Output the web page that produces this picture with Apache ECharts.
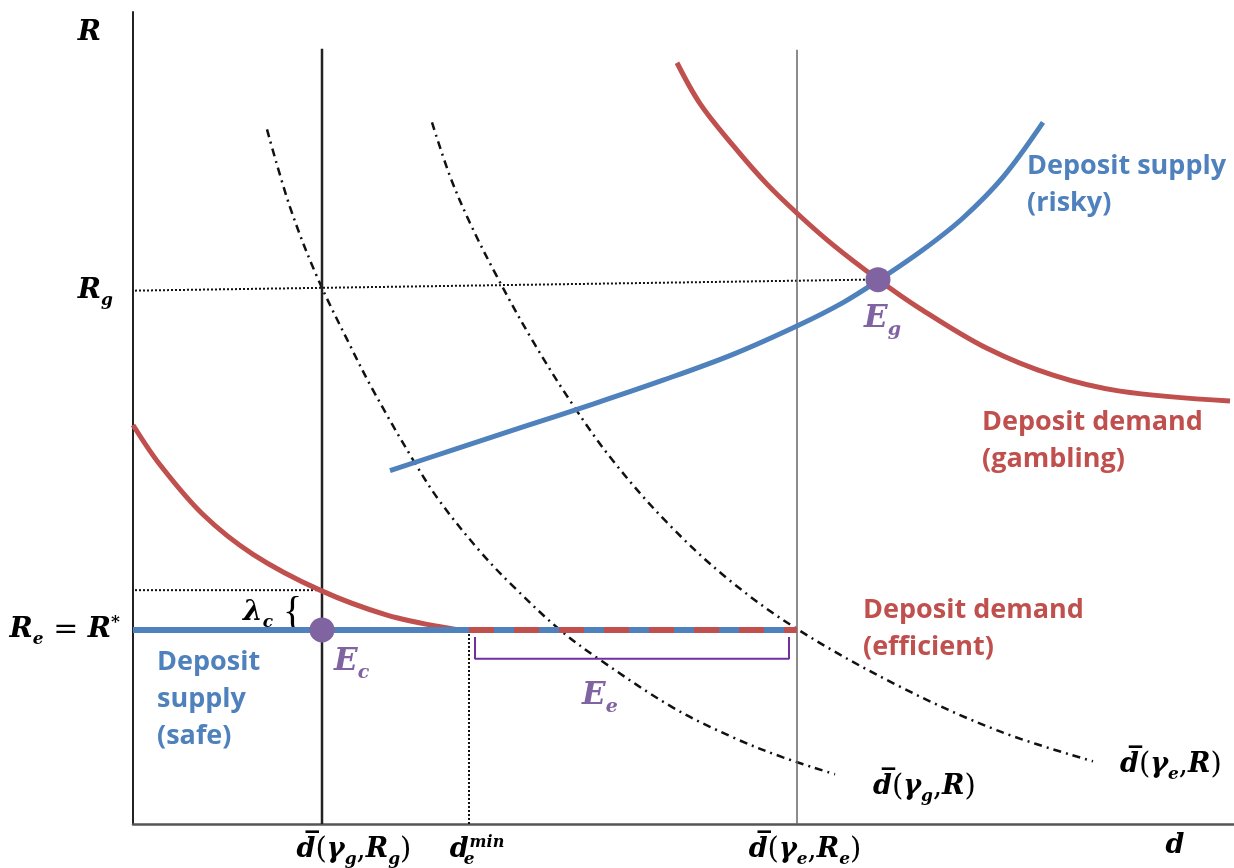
<!DOCTYPE html>
<html>
<head>
<meta charset="utf-8">
<script src="https://cdn.jsdelivr.net/npm/echarts@6/dist/echarts.min.js"></script>
<style>
  html, body { margin: 0; padding: 0; background: #fff; }
  #chart { width: 1234px; height: 868px; }
</style>
</head>
<body>
<div id="chart"></div>
<script>
// coordinates: d along the horizontal axis, R up the vertical axis (both)
const demandEfficient = [[0, 401], [27, 361], [70, 311], [120, 271], [187, 235], [254, 210], [320, 196], [336, 195]]
const supplySafe = [[0, 195], [664, 195]]
const demandEfficientFlat = [[336, 195], [664, 195]]
const supplyRisky = [[257, 355], [320, 376], [390, 399], [460, 422], [530, 446], [600, 472], [665, 501], [710, 524], [745, 546], [790, 577], [830, 609], [870, 650], [910, 705]]
const demandGambling = [[544, 765], [567, 724], [600, 682], [634, 643], [667, 611], [700, 582], [744, 548], [787, 518], [854, 478], [920, 451], [987, 435], [1097, 425]]
const dBarGammaG = [[134, 698], [157, 620], [184, 550], [217, 481], [240, 436], [280, 366], [307, 324], [347, 274], [380, 239], [427, 195], [467, 165], [540, 117], [600, 87], [650, 67], [702, 50]]
const dBarGammaE = [[299, 705], [317, 651], [337, 604], [364, 550], [400, 485], [440, 421], [480, 365], [534, 303], [594, 247], [664, 196], [767, 138], [867, 93], [960, 63]]

const dGammaGRg = 189
const dGammaERe = 664
const dEmin = 336
const Re = 195
const lambdaLevel = 235
const RgLine = [[2, 536], [732, 547]]
const eqPoints = [[189, 195], [745, 547]]
const bracketEe = [[342, 188], [342, 166], [656, 166], [656, 188]]

const xTickValues = [221, 344, 672, 1042]
const xTickLabels = ['{m|d\u0305}{n|(}{m|\u03b3}{s|g}{n|,}{m|R}{s|g}{n|)}', '{m|d}{se|e}{p|min}', '{m|d\u0305}{n|(}{m|\u03b3}{s|e}{n|,}{m|R}{s|e}{n|)}', '{m|d}']
const yTickValues = [195, 536, 795]
const yTickLabels = ['{m|R}{s|e}{n| = }{m|R}{p|*}', '{m|R}{s|g}{gap1|}', '{m|R}{gap2|}']

const BLUE = '#4F81BD'
const RED = '#C0504D'
const PURPLE = '#8064A2'
const MF = 'DejaVu Serif'
const TF = 'Open Sans'

const mathRich = (size) => ({
  m: { fontFamily: MF, fontStyle: 'italic', fontWeight: 'bold', fontSize: size },
  n: { fontFamily: MF, fontSize: size + 2 },
  s: { fontFamily: MF, fontStyle: 'italic', fontWeight: 'bold', fontSize: Math.round(size * 0.62), padding: [Math.round(size * 0.7), 0, 0, 0] },
  se: { fontFamily: MF, fontStyle: 'italic', fontWeight: 'bold', fontSize: Math.round(size * 0.62), padding: [Math.round(size * 0.7), 0, 0, 0], width: 1 },
  p: { fontFamily: MF, fontStyle: 'italic', fontWeight: 'bold', fontSize: Math.round(size * 0.6), padding: [0, 0, Math.round(size * 0.55), 0] },
  b: { fontFamily: 'Liberation Serif', fontSize: 40 },
  gap1: { width: 7 },
  gap2: { width: 19 },
})

const lineSeries = (data, style, extra = {}) => ({
  type: 'line',
  data,
  showSymbol: false,
  silent: true,
  lineStyle: style,
  ...extra,
})

const curve = { smooth: 0.35 }

const chart = echarts.init(document.getElementById('chart'))

const mathText = (x, y, text, fill, size = 27) => ({
  type: 'text',
  x,
  y,
  silent: true,
  style: { text, fill, rich: mathRich(size), textVerticalAlign: 'middle', font: `bold italic ${size}px "${MF}"` },
})

const wordText = (x, y, text, fill) => ({
  type: 'text',
  x,
  y,
  silent: true,
  style: { text, fill, font: `bold 27px "${TF}"`, lineHeight: 37, textVerticalAlign: 'top' },
})

chart.setOption({
  animation: false,
  backgroundColor: '#fff',
  grid: { left: 133, right: 0, top: 12, bottom: 40 },
  xAxis: {
    type: 'value',
    min: 0,
    max: 1101,
    splitLine: { show: false },
    axisTick: { show: false },
    axisLine: { show: true, lineStyle: { color: '#555', width: 2.5 } },
    axisLabel: {
      customValues: xTickValues,
      margin: 8,
      color: '#000',
      formatter: (v) => xTickLabels[xTickValues.indexOf(v)] || '',
      rich: mathRich(27),
    },
  },
  yAxis: {
    type: 'value',
    min: 0,
    max: 816,
    splitLine: { show: false },
    axisTick: { show: false },
    axisLine: { show: true, lineStyle: { color: '#222', width: 2 } },
    axisLabel: {
      customValues: yTickValues,
      margin: 13,
      color: '#000',
      formatter: (v) => yTickLabels[yTickValues.indexOf(v)] || '',
      rich: mathRich(28),
    },
  },
  series: [
    lineSeries(dBarGammaG, { color: '#111', width: 2.5, type: [8, 5, 2, 5] }, curve),
    lineSeries(dBarGammaE, { color: '#111', width: 2.5, type: [8, 5, 2, 5] }, curve),
    lineSeries(RgLine, { color: '#111', width: 2, type: [2, 2] }),
    lineSeries([[2, lambdaLevel], [dGammaGRg, lambdaLevel]], { color: '#111', width: 2, type: [2, 2] }),
    lineSeries([[dEmin, 0], [dEmin, Re]], { color: '#111', width: 2, type: [2, 2] }),
    lineSeries([[dGammaGRg, 0], [dGammaGRg, 779]], { color: '#222', width: 2.5 }),
    lineSeries([[dGammaERe, 0], [dGammaERe, 778]], { color: '#666', width: 1.5 }),
    lineSeries(bracketEe, { color: '#7030A0', width: 2 }),
    lineSeries(demandEfficient, { color: RED, width: 5 }, curve),
    lineSeries(supplySafe, { color: BLUE, width: 6 }),
    lineSeries(demandEfficientFlat, { color: RED, width: 6, type: [25, 20] }),
    lineSeries(supplyRisky, { color: BLUE, width: 5 }, curve),
    lineSeries(demandGambling, { color: RED, width: 5 }, curve),
    {
      type: 'scatter',
      data: eqPoints,
      symbolSize: 25,
      silent: true,
      z: 5,
      itemStyle: { color: PURPLE, opacity: 1 },
    },
  ],
  graphic: [
    wordText(157, 644, 'Deposit\nsupply\n(safe)', BLUE),
    wordText(863, 592, 'Deposit demand\n(efficient)', RED),
    wordText(982, 404, 'Deposit demand\n(gambling)', RED),
    wordText(1027, 148, 'Deposit supply\n(risky)', BLUE),
    mathText(243, 613, '{m|\u03bb}{s|c}{b| {}', '#000', 28),
    mathText(334, 662, '{m|E}{s|c}', PURPLE, 31),
    mathText(582, 696, '{m|E}{s|e}', PURPLE, 31),
    mathText(864, 319, '{m|E}{s|g}', PURPLE, 31),
    mathText(873, 787, '{m|d\u0305}{n|(}{m|\u03b3}{s|g}{n|,}{m|R}{n|)}', '#000', 27),
    mathText(1120, 765, '{m|d\u0305}{n|(}{m|\u03b3}{s|e}{n|,}{m|R}{n|)}', '#000', 27),
  ],
})
</script>
</body>
</html>
